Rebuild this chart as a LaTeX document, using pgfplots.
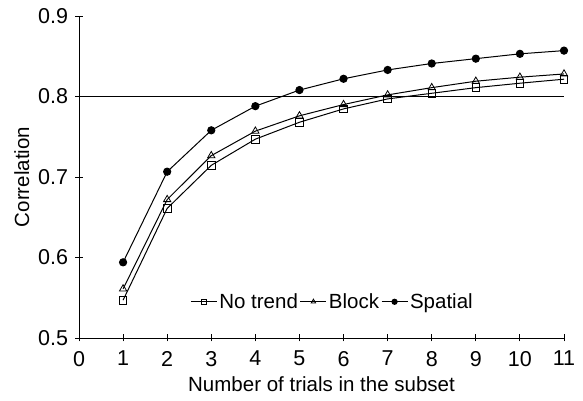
\documentclass[border=0pt]{standalone}
\usepackage{pgfplots}
\pgfplotsset{compat=1.18}
\usepackage{fontspec}
\setmainfont{Liberation Sans}
\begin{document}
\begin{tikzpicture}
\useasboundingbox (-79pt,-63pt) rectangle (504pt,338pt);
\begin{axis}[
  at={(0pt,0pt)}, anchor=origin,
  scale only axis, width=485pt, height=322pt,
  xmin=0, xmax=11, ymin=0.5, ymax=0.9,
  axis x line=bottom, axis y line=left,
  axis line style={-, line width=0.9pt},
  xtick={0,1,...,11}, ytick={0.5,0.6,0.7,0.8,0.9},
  yticklabel={\pgfmathprintnumber[fixed, fixed zerofill, precision=1, assume math mode=true]{\tick}},
  xticklabel={\pgfmathprintnumber[assume math mode=true]{\tick}},
  tick align=center, major tick length=7pt,
  tick style={line width=0.9pt, black},
  tick label style={font=\fontsize{21.5}{25}\selectfont},
  xticklabel style={yshift=-6pt},
  yticklabel style={xshift=-4pt},
  xlabel={Number of trials in the subset},
  ylabel={Correlation},
  label style={font=\fontsize{20.5}{24}\selectfont},
  xlabel style={yshift=-4pt},
  ylabel style={yshift=2pt},
  clip=false,
  legend columns=3,
  legend style={draw=none, fill=none, at={(axis cs:5.75,0.545)}, anchor=center,
    font=\fontsize{20.5}{24}\selectfont,
    /tikz/every even column/.append style={column sep=0pt},
    inner sep=0pt},
  legend image code/.code={\draw[mark size=2.6pt, mark repeat=2, mark phase=2] plot coordinates {(0pt,0pt)(13pt,0pt)(26pt,0pt)};},
]
\addplot[black, line width=0.8pt, forget plot] coordinates {(0,0.8) (11,0.8)};
\addplot[black, line width=1pt, mark=square, mark size=3.8pt, mark options={fill=white, line width=0.8pt}] coordinates {
(1,0.547) (2,0.661) (3,0.7145) (4,0.747) (5,0.768) (6,0.7846) (7,0.797) (8,0.804) (9,0.811) (10,0.8165) (11,0.8215)};
\addlegendentry{No trend}
\addplot[black, line width=1pt, mark=triangle, mark size=4.2pt, mark options={fill=white, line width=0.8pt}] coordinates {
(1,0.561) (2,0.672) (3,0.7265) (4,0.757) (5,0.776) (6,0.790) (7,0.802) (8,0.811) (9,0.819) (10,0.824) (11,0.828)};
\addlegendentry{Block}
\addplot[black, line width=1pt, mark=*, mark size=3.6pt, mark options={fill=black}] coordinates {
(1,0.594) (2,0.7066) (3,0.758) (4,0.788) (5,0.808) (6,0.822) (7,0.833) (8,0.841) (9,0.847) (10,0.853) (11,0.857)};
\addlegendentry{Spatial}
\end{axis}
\end{tikzpicture}
\end{document}
